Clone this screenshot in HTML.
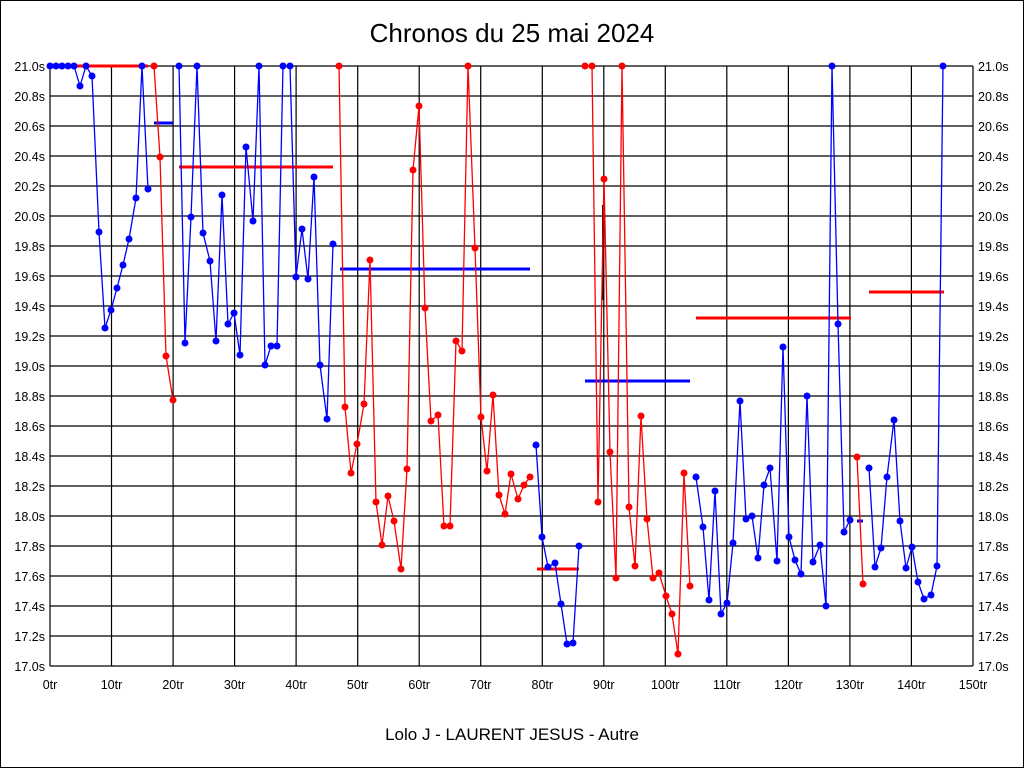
<!DOCTYPE html>
<html><head><meta charset="utf-8"><style>
html,body{margin:0;padding:0;background:#fff}
svg{display:block}
text{font-family:"Liberation Sans",sans-serif;fill:#000}
</style></head><body>
<svg width="1024" height="768" viewBox="0 0 1024 768" xmlns="http://www.w3.org/2000/svg">
<rect x="0.5" y="0.5" width="1023" height="767" fill="#fff" stroke="#000"/>
<text x="512" y="42" font-size="26" text-anchor="middle">Chronos du 25 mai 2024</text>
<text x="512" y="740" font-size="17" text-anchor="middle">Lolo J - LAURENT JESUS - Autre</text>
<g stroke="#000" stroke-width="1.2" fill="none">
<path d="M50 66H973M50 96H973M50 126H973M50 156H973M50 186H973M50 216H973M50 246H973M50 276H973M50 306H973M50 336H973M50 366H973M50 396H973M50 426H973M50 456H973M50 486H973M50 516H973M50 546H973M50 576H973M50 606H973M50 636H973M50 666H973"/>
<path d="M50 66V666M111.5 66V666M173.1 66V666M234.6 66V666M296.1 66V666M357.7 66V666M419.2 66V666M480.7 66V666M542.3 66V666M603.8 66V666M665.3 66V666M726.8 66V666M788.4 66V666M849.9 66V666M911.4 66V666M973 66V666"/>
</g>
<g font-size="12.5" text-anchor="end">
<text x="45" y="71">21.0s</text><text x="45" y="101">20.8s</text><text x="45" y="131">20.6s</text><text x="45" y="161">20.4s</text><text x="45" y="191">20.2s</text><text x="45" y="221">20.0s</text><text x="45" y="251">19.8s</text><text x="45" y="281">19.6s</text><text x="45" y="311">19.4s</text><text x="45" y="341">19.2s</text><text x="45" y="371">19.0s</text><text x="45" y="401">18.8s</text><text x="45" y="431">18.6s</text><text x="45" y="461">18.4s</text><text x="45" y="491">18.2s</text><text x="45" y="521">18.0s</text><text x="45" y="551">17.8s</text><text x="45" y="581">17.6s</text><text x="45" y="611">17.4s</text><text x="45" y="641">17.2s</text><text x="45" y="671">17.0s</text>
</g>
<g font-size="12.5" text-anchor="start">
<text x="978" y="71">21.0s</text><text x="978" y="101">20.8s</text><text x="978" y="131">20.6s</text><text x="978" y="161">20.4s</text><text x="978" y="191">20.2s</text><text x="978" y="221">20.0s</text><text x="978" y="251">19.8s</text><text x="978" y="281">19.6s</text><text x="978" y="311">19.4s</text><text x="978" y="341">19.2s</text><text x="978" y="371">19.0s</text><text x="978" y="401">18.8s</text><text x="978" y="431">18.6s</text><text x="978" y="461">18.4s</text><text x="978" y="491">18.2s</text><text x="978" y="521">18.0s</text><text x="978" y="551">17.8s</text><text x="978" y="581">17.6s</text><text x="978" y="611">17.4s</text><text x="978" y="641">17.2s</text><text x="978" y="671">17.0s</text>
</g>
<g font-size="12.5" text-anchor="middle">
<text x="50" y="689">0tr</text><text x="111.5" y="689">10tr</text><text x="173.1" y="689">20tr</text><text x="234.6" y="689">30tr</text><text x="296.1" y="689">40tr</text><text x="357.7" y="689">50tr</text><text x="419.2" y="689">60tr</text><text x="480.7" y="689">70tr</text><text x="542.3" y="689">80tr</text><text x="603.8" y="689">90tr</text><text x="665.3" y="689">100tr</text><text x="726.8" y="689">110tr</text><text x="788.4" y="689">120tr</text><text x="849.9" y="689">130tr</text><text x="911.4" y="689">140tr</text><text x="973" y="689">150tr</text>
</g>
<!-- averages -->
<g stroke-width="3" fill="none">
<path d="M52 66H148" stroke="#f00"/>
<path d="M154 123H173" stroke="#00f"/>
<path d="M179 167H333" stroke="#f00"/>
<path d="M340 269H530" stroke="#00f"/>
<path d="M537 569H579" stroke="#f00"/>
<path d="M585 381H690" stroke="#00f"/>
<path d="M696 318H851" stroke="#f00"/>
<path d="M857 521H863" stroke="#00f"/>
<path d="M869 292H944" stroke="#f00"/>
</g>
<path d="M603 205V300" stroke="#000" stroke-width="2"/>
<g fill="none" stroke-width="1.3">
<polyline stroke="#00f" points="50,66 56,66 62,66 68,66 74,66 80,86 86,66 92,76 99,232 105,328 111,310 117,288 123,265 129,239 136,198 142,66 148,189"/>
<polyline stroke="#f00" points="154,66 160,157 166,356 173,400"/>
<polyline stroke="#00f" points="179,66 185,343 191,217 197,66 203,233 210,261 216,341 222,195 228,324 234,313 240,355 246,147 253,221 259,66 265,365 271,346 277,346 283,66 290,66 296,277 302,229 308,279 314,177 320,365 327,419 333,244"/>
<polyline stroke="#f00" points="339,66 345,407 351,473 357,444 364,404 370,260 376,502 382,545 388,496 394,521 401,569 407,469 413,170 419,106 425,308 431,421 438,415 444,526 450,526 456,341 462,351 468,66 475,248 481,417 487,471 493,395 499,495 505,514 511,474 518,499 524,485 530,477"/>
<polyline stroke="#00f" points="536,445 542,537 548,567 555,563 561,604 567,644 573,643 579,546"/>
<polyline stroke="#f00" points="585,66 592,66 598,502 604,179 610,452 616,578 622,66 629,507 635,566 641,416 647,519 653,578 659,573 666,596 672,614 678,654 684,473 690,586"/>
<polyline stroke="#00f" points="696,477 703,527 709,600 715,491 721,614 727,603 733,543 740,401 746,519 752,516 758,558 764,485 770,468 777,561 783,347 789,537 795,560 801,574 807,396 813,562 820,545 826,606 832,66 838,324 844,532 850,520"/>
<polyline stroke="#f00" points="857,457 863,584"/>
<polyline stroke="#00f" points="869,468 875,567 881,548 887,477 894,420 900,521 906,568 912,547 918,582 924,599 931,595 937,566 943,66"/>
</g>
<g id="dots"></g>
<g fill="#00f">
<circle cx="50" cy="66" r="3.5"/><circle cx="56" cy="66" r="3.5"/><circle cx="62" cy="66" r="3.5"/><circle cx="68" cy="66" r="3.5"/><circle cx="74" cy="66" r="3.5"/><circle cx="80" cy="86" r="3.5"/><circle cx="86" cy="66" r="3.5"/><circle cx="92" cy="76" r="3.5"/><circle cx="99" cy="232" r="3.5"/><circle cx="105" cy="328" r="3.5"/><circle cx="111" cy="310" r="3.5"/><circle cx="117" cy="288" r="3.5"/><circle cx="123" cy="265" r="3.5"/><circle cx="129" cy="239" r="3.5"/><circle cx="136" cy="198" r="3.5"/><circle cx="142" cy="66" r="3.5"/><circle cx="148" cy="189" r="3.5"/>
<circle cx="179" cy="66" r="3.5"/><circle cx="185" cy="343" r="3.5"/><circle cx="191" cy="217" r="3.5"/><circle cx="197" cy="66" r="3.5"/><circle cx="203" cy="233" r="3.5"/><circle cx="210" cy="261" r="3.5"/><circle cx="216" cy="341" r="3.5"/><circle cx="222" cy="195" r="3.5"/><circle cx="228" cy="324" r="3.5"/><circle cx="234" cy="313" r="3.5"/><circle cx="240" cy="355" r="3.5"/><circle cx="246" cy="147" r="3.5"/><circle cx="253" cy="221" r="3.5"/><circle cx="259" cy="66" r="3.5"/><circle cx="265" cy="365" r="3.5"/><circle cx="271" cy="346" r="3.5"/><circle cx="277" cy="346" r="3.5"/><circle cx="283" cy="66" r="3.5"/><circle cx="290" cy="66" r="3.5"/><circle cx="296" cy="277" r="3.5"/><circle cx="302" cy="229" r="3.5"/><circle cx="308" cy="279" r="3.5"/><circle cx="314" cy="177" r="3.5"/><circle cx="320" cy="365" r="3.5"/><circle cx="327" cy="419" r="3.5"/><circle cx="333" cy="244" r="3.5"/>
<circle cx="536" cy="445" r="3.5"/><circle cx="542" cy="537" r="3.5"/><circle cx="548" cy="567" r="3.5"/><circle cx="555" cy="563" r="3.5"/><circle cx="561" cy="604" r="3.5"/><circle cx="567" cy="644" r="3.5"/><circle cx="573" cy="643" r="3.5"/><circle cx="579" cy="546" r="3.5"/>
<circle cx="696" cy="477" r="3.5"/><circle cx="703" cy="527" r="3.5"/><circle cx="709" cy="600" r="3.5"/><circle cx="715" cy="491" r="3.5"/><circle cx="721" cy="614" r="3.5"/><circle cx="727" cy="603" r="3.5"/><circle cx="733" cy="543" r="3.5"/><circle cx="740" cy="401" r="3.5"/><circle cx="746" cy="519" r="3.5"/><circle cx="752" cy="516" r="3.5"/><circle cx="758" cy="558" r="3.5"/><circle cx="764" cy="485" r="3.5"/><circle cx="770" cy="468" r="3.5"/><circle cx="777" cy="561" r="3.5"/><circle cx="783" cy="347" r="3.5"/><circle cx="789" cy="537" r="3.5"/><circle cx="795" cy="560" r="3.5"/><circle cx="801" cy="574" r="3.5"/><circle cx="807" cy="396" r="3.5"/><circle cx="813" cy="562" r="3.5"/><circle cx="820" cy="545" r="3.5"/><circle cx="826" cy="606" r="3.5"/><circle cx="832" cy="66" r="3.5"/><circle cx="838" cy="324" r="3.5"/><circle cx="844" cy="532" r="3.5"/><circle cx="850" cy="520" r="3.5"/>
<circle cx="869" cy="468" r="3.5"/><circle cx="875" cy="567" r="3.5"/><circle cx="881" cy="548" r="3.5"/><circle cx="887" cy="477" r="3.5"/><circle cx="894" cy="420" r="3.5"/><circle cx="900" cy="521" r="3.5"/><circle cx="906" cy="568" r="3.5"/><circle cx="912" cy="547" r="3.5"/><circle cx="918" cy="582" r="3.5"/><circle cx="924" cy="599" r="3.5"/><circle cx="931" cy="595" r="3.5"/><circle cx="937" cy="566" r="3.5"/><circle cx="943" cy="66" r="3.5"/>
</g>
<g fill="#f00">
<circle cx="154" cy="66" r="3.5"/><circle cx="160" cy="157" r="3.5"/><circle cx="166" cy="356" r="3.5"/><circle cx="173" cy="400" r="3.5"/>
<circle cx="339" cy="66" r="3.5"/><circle cx="345" cy="407" r="3.5"/><circle cx="351" cy="473" r="3.5"/><circle cx="357" cy="444" r="3.5"/><circle cx="364" cy="404" r="3.5"/><circle cx="370" cy="260" r="3.5"/><circle cx="376" cy="502" r="3.5"/><circle cx="382" cy="545" r="3.5"/><circle cx="388" cy="496" r="3.5"/><circle cx="394" cy="521" r="3.5"/><circle cx="401" cy="569" r="3.5"/><circle cx="407" cy="469" r="3.5"/><circle cx="413" cy="170" r="3.5"/><circle cx="419" cy="106" r="3.5"/><circle cx="425" cy="308" r="3.5"/><circle cx="431" cy="421" r="3.5"/><circle cx="438" cy="415" r="3.5"/><circle cx="444" cy="526" r="3.5"/><circle cx="450" cy="526" r="3.5"/><circle cx="456" cy="341" r="3.5"/><circle cx="462" cy="351" r="3.5"/><circle cx="468" cy="66" r="3.5"/><circle cx="475" cy="248" r="3.5"/><circle cx="481" cy="417" r="3.5"/><circle cx="487" cy="471" r="3.5"/><circle cx="493" cy="395" r="3.5"/><circle cx="499" cy="495" r="3.5"/><circle cx="505" cy="514" r="3.5"/><circle cx="511" cy="474" r="3.5"/><circle cx="518" cy="499" r="3.5"/><circle cx="524" cy="485" r="3.5"/><circle cx="530" cy="477" r="3.5"/>
<circle cx="585" cy="66" r="3.5"/><circle cx="592" cy="66" r="3.5"/><circle cx="598" cy="502" r="3.5"/><circle cx="604" cy="179" r="3.5"/><circle cx="610" cy="452" r="3.5"/><circle cx="616" cy="578" r="3.5"/><circle cx="622" cy="66" r="3.5"/><circle cx="629" cy="507" r="3.5"/><circle cx="635" cy="566" r="3.5"/><circle cx="641" cy="416" r="3.5"/><circle cx="647" cy="519" r="3.5"/><circle cx="653" cy="578" r="3.5"/><circle cx="659" cy="573" r="3.5"/><circle cx="666" cy="596" r="3.5"/><circle cx="672" cy="614" r="3.5"/><circle cx="678" cy="654" r="3.5"/><circle cx="684" cy="473" r="3.5"/><circle cx="690" cy="586" r="3.5"/>
<circle cx="857" cy="457" r="3.5"/><circle cx="863" cy="584" r="3.5"/>
</g>
</svg>
</body></html>
